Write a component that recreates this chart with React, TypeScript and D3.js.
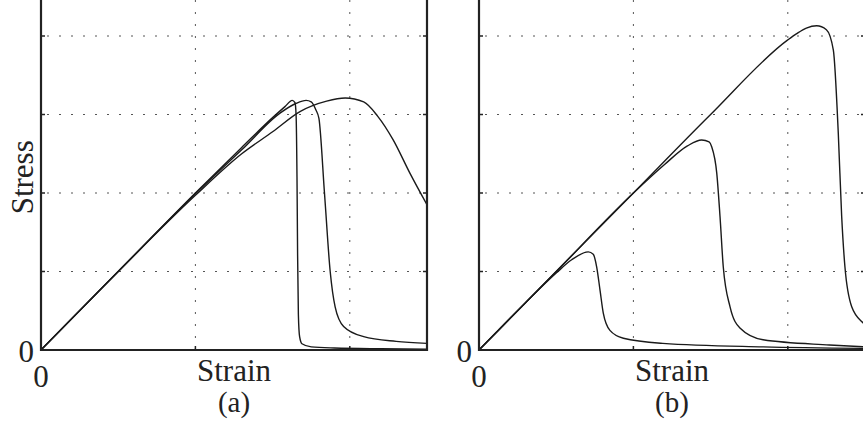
import React, { useRef, useEffect } from "react";
import * as d3 from "d3";

// strain / stress values (x: grid units, y: grid units)
const strainA1 = [0, 0.5, 1.0, 1.3, 1.5, 1.58, 1.627, 1.645, 1.652, 1.658, 1.662, 1.667, 1.675, 1.69, 1.75, 1.9, 2.2, 2.5];
const stressA1 = [0, 1.0, 2.0, 2.58, 2.96, 3.1, 3.18, 3.15, 3.0, 2.2, 1.2, 0.45, 0.17, 0.08, 0.04, 0.025, 0.015, 0.01];

const strainA2 = [0, 0.5, 1.0, 1.3, 1.55, 1.65, 1.717, 1.75, 1.78, 1.8, 1.836, 1.873, 1.905, 1.96, 2.09, 2.3, 2.5];
const stressA2 = [0, 1.0, 1.99, 2.55, 3.02, 3.14, 3.18, 3.16, 3.06, 2.95, 2.0, 1.0, 0.55, 0.3, 0.17, 0.11, 0.085];

const strainA3 = [0, 0.5, 1.0, 1.3, 1.5, 1.68, 1.85, 1.97, 2.09, 2.18, 2.28, 2.39, 2.5];
const stressA3 = [0, 1.0, 1.97, 2.5, 2.78, 3.04, 3.17, 3.21, 3.16, 2.98, 2.68, 2.25, 1.85];

const strainB1 = [0, 0.3, 0.5, 0.6, 0.708, 0.74, 0.762, 0.784, 0.805, 0.848, 0.935, 1.19, 1.84, 2.5];
const stressB1 = [0, 0.6, 0.98, 1.15, 1.25, 1.22, 1.06, 0.76, 0.47, 0.25, 0.15, 0.085, 0.04, 0.02];

const strainB2 = [0, 0.5, 1.0, 1.2, 1.35, 1.442, 1.49, 1.507, 1.54, 1.561, 1.582, 1.626, 1.69, 1.84, 2.27, 2.5];
const stressB2 = [0, 1.0, 2.0, 2.36, 2.6, 2.675, 2.65, 2.59, 2.25, 1.7, 1.06, 0.55, 0.28, 0.13, 0.064, 0.04];

const strainB3 = [0, 0.5, 1.0, 1.5, 2.0, 2.058, 2.12, 2.187, 2.25, 2.295, 2.327, 2.349, 2.37, 2.414, 2.49, 2.5];
const stressB3 = [0, 1.0, 2.0, 3.0, 3.95, 4.03, 4.1, 4.13, 4.08, 3.82, 2.76, 1.7, 1.06, 0.55, 0.34, 0.32];

const xTicks = [0, 1, 2];
const yTicks = [0, 1, 2, 3, 4];

const panels = [
  { left: 41, label: "(a)", yTitle: "Stress", curves: [[strainA1, stressA1], [strainA2, stressA2], [strainA3, stressA3]] },
  { left: 479, label: "(b)", yTitle: "", curves: [[strainB1, stressB1], [strainB2, stressB2], [strainB3, stressB3]] },
];

const W = 863;
const H = 427;
const bottom = 350;
const font = "'Times New Roman', 'Liberation Serif', serif";

const App = () => {
  const ref = useRef(null);

  useEffect(() => {
    const svg = d3.select(ref.current);
    svg.selectAll("*").remove();

    panels.forEach((p) => {
      const x = d3.scaleLinear().domain([0, 2.5]).range([p.left, p.left + 2.5 * 154.4]);
      const y = d3.scaleLinear().domain([0, 5]).range([bottom, bottom - 5 * 78.5]);
      const g = svg.append("g");
      const [x0, x1] = x.range();

      // dotted grid
      g.selectAll(".hgrid")
        .data(yTicks.slice(1))
        .join("line")
        .attr("x1", x0 + 6)
        .attr("x2", x1)
        .attr("y1", (d) => y(d))
        .attr("y2", (d) => y(d))
        .attr("stroke", "#555")
        .attr("stroke-width", 1)
        .attr("stroke-dasharray", "2,10");
      g.selectAll(".vgrid")
        .data(xTicks.slice(1))
        .join("line")
        .attr("x1", (d) => x(d))
        .attr("x2", (d) => x(d))
        .attr("y1", bottom)
        .attr("y2", y(5))
        .attr("stroke", "#555")
        .attr("stroke-width", 1)
        .attr("stroke-dasharray", "2,10");

      // ticks
      g.selectAll(".ytk")
        .data(yTicks.slice(1))
        .join("path")
        .attr("d", (d) => `M${x0},${y(d)}h4M${x1},${y(d)}h-4`)
        .attr("stroke", "#222")
        .attr("stroke-width", 1.5);
      g.selectAll(".xtk")
        .data(xTicks.slice(1))
        .join("path")
        .attr("d", (d) => `M${x(d)},${bottom}v-4`)
        .attr("stroke", "#222")
        .attr("stroke-width", 1.5);

      // curves
      const line = d3
        .line()
        .x((d) => x(d[0]))
        .y((d) => y(d[1]))
        .curve(d3.curveMonotoneX);
      p.curves.forEach(([xs, ys]) => {
        g.append("path")
          .attr("d", line(xs.map((v, i) => [v, ys[i]])))
          .attr("fill", "none")
          .attr("stroke", "#1a1a1a")
          .attr("stroke-width", 1.4);
      });

      // frame
      g.append("path")
        .attr("d", `M${x0},${y(5)}V${bottom}H${x1}V${y(5)}`)
        .attr("fill", "none")
        .attr("stroke", "#222")
        .attr("stroke-width", 2.2);

      // labels
      const txt = (tx, ty, s, size = 31, anchor = "middle") =>
        g.append("text")
          .attr("x", tx)
          .attr("y", ty)
          .attr("text-anchor", anchor)
          .attr("font-family", font)
          .attr("font-size", size)
          .attr("fill", "#222")
          .text(s);
      txt(x0 - 7, 362, "0", 31, "end");
      txt(x0, 387, "0");
      txt((x0 + x1) / 2, 381, "Strain");
      txt((x0 + x1) / 2, 412, p.label, 29);
      if (p.yTitle) {
        txt(0, 0, p.yTitle).attr("transform", `translate(33,${y(2.2)}) rotate(-90)`);
      }
    });
  }, []);

  return (
    <svg ref={ref} width={W} height={H} style={{ position: "fixed", left: 0, top: 0, background: "#fff" }} />
  );
};

export default App;
